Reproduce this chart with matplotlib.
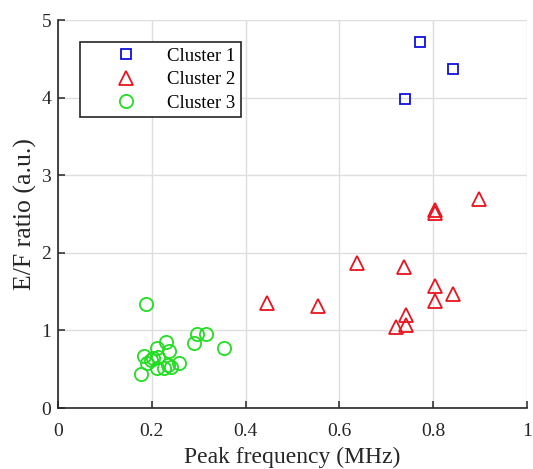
import numpy as np
import matplotlib.pyplot as plt

# cluster data
c1_freq = [0.771, 0.842, 0.740]
c1_ratio = [4.72, 4.37, 3.99]

c2_freq = [0.898, 0.803, 0.803, 0.637, 0.738, 0.803, 0.842, 0.803, 0.445, 0.555,
           0.741, 0.743, 0.720]
c2_ratio = [2.70, 2.55, 2.51, 1.875, 1.82, 1.57, 1.47, 1.38, 1.36, 1.32,
            1.20, 1.07, 1.04]

c3_freq = [0.187, 0.296, 0.316, 0.289, 0.355, 0.230, 0.211, 0.236, 0.184, 0.202,
           0.199, 0.189, 0.259, 0.211, 0.227, 0.234, 0.241, 0.176, 0.214]
c3_ratio = [1.34, 0.96, 0.96, 0.84, 0.78, 0.85, 0.78, 0.74, 0.67, 0.64,
            0.62, 0.58, 0.58, 0.52, 0.52, 0.55, 0.53, 0.44, 0.66]

plt.rcParams['font.family'] = ['Liberation Serif', 'DejaVu Serif']

fig = plt.figure(figsize=(5.33, 4.69), dpi=100)
ax = fig.add_axes([0.1088, 0.130, 0.880, 0.827])

ax.plot(c1_freq, c1_ratio, 's', mfc='none', mec='#1010dd', ms=7.5, mew=1.3, label='Cluster 1')
ax.plot(c2_freq, c2_ratio, '^', mfc='none', mec='#e8141e', ms=10, mew=1.3, label='Cluster 2')
ax.plot(c3_freq, c3_ratio, 'o', mfc='none', mec='#22dd22', ms=9.5, mew=1.3, label='Cluster 3')

ax.set_xlim(0, 1)
ax.set_ylim(0, 5)
ax.set_xticks([0, 0.2, 0.4, 0.6, 0.8, 1])
ax.set_xticklabels(['0', '0.2', '0.4', '0.6', '0.8', '1'])
ax.set_yticks([0, 1, 2, 3, 4, 5])
ax.grid(True, color='#dedede', lw=1)
ax.set_axisbelow(True)

for s in ['top', 'right']:
    ax.spines[s].set_visible(False)
for s in ['left', 'bottom']:
    ax.spines[s].set_color('#262626')
    ax.spines[s].set_linewidth(1.2)
ax.tick_params(direction='in', length=5, width=1.1, labelsize=14, colors='#262626')
ax.tick_params(axis='x', pad=11)
ax.tick_params(axis='y', pad=5)

ax.set_xlabel('Peak frequency (MHz)', fontsize=17, color='#262626', labelpad=5)
ax.set_ylabel('E/F ratio (a.u.)', fontsize=18.5, color='#262626', labelpad=3)

leg = ax.legend(loc='upper left', bbox_to_anchor=(0.047, 0.943), fontsize=13.5,
                fancybox=False, edgecolor='#262626', framealpha=1,
                handlelength=4.3, handletextpad=0.05, borderpad=0.3,
                labelspacing=0.33, borderaxespad=0)
leg.get_frame().set_linewidth(1.2)

fig.savefig('out.png', dpi=100)
